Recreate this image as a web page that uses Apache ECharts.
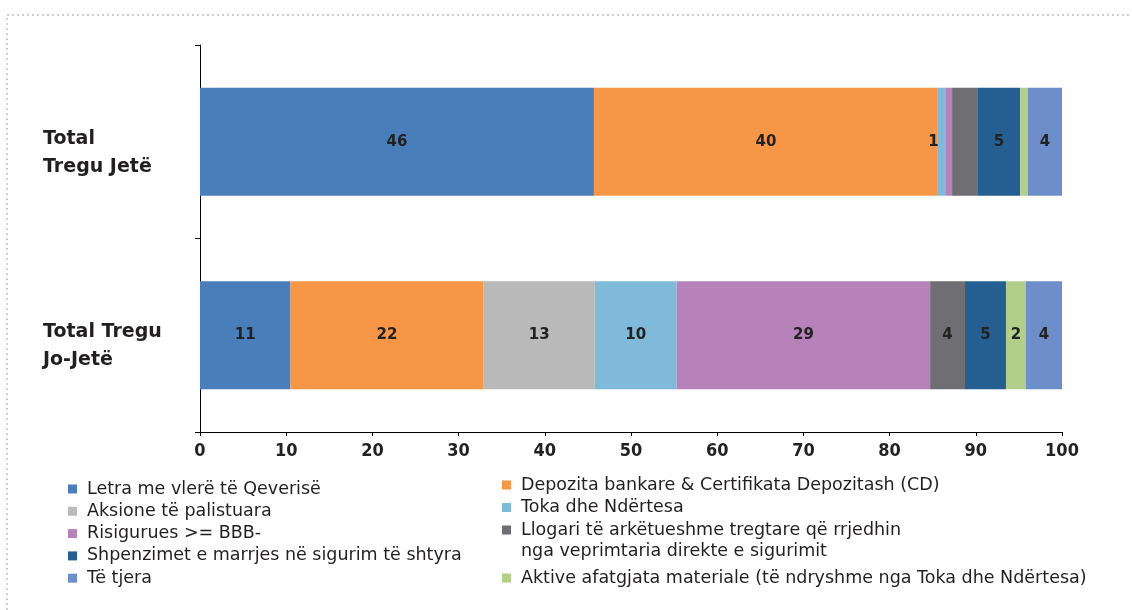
<!DOCTYPE html>
<html>
<head>
<meta charset="utf-8">
<title>Struktura e aktiveve</title>
<script src="https://cdn.jsdelivr.net/npm/echarts@6/dist/echarts.min.js"></script>
<style>
    html, body { margin: 0; padding: 0; background: #fff; }
    #main { width: 1132px; height: 610px; }
</style>
</head>
<body>
<div id="main"></div>
<script>
// kategorite (boshti vertikal)
var categories = ['Total\nTregu Jetë', 'Total Tregu\nJo-Jetë'];

// emrat e serive
var seriesNames = [
    'Letra me vlerë të Qeverisë',
    'Depozita bankare & Certifikata Depozitash (CD)',
    'Aksione të palistuara',
    'Toka dhe Ndërtesa',
    'Risigurues >= BBB-',
    'Llogari të arkëtueshme tregtare që rrjedhin',
    'Shpenzimet e marrjes në sigurim të shtyra',
    'Aktive afatgjata materiale (të ndryshme nga Toka dhe Ndërtesa)',
    'Të tjera'
];

// vlerat (%) per secilen kategori
var jeteValues   = [45.7, 39.9, 0, 0.85, 0.8, 3.0, 4.9, 0.9, 3.95];
var joJeteValues = [10.5, 22.4, 12.9, 9.5, 29.4, 4.05, 4.75, 2.3, 4.2];

// etiketat qe nuk shfaqen ne shtyllen e pare
var jeteNoLabel = [false, false, true, false, true, true, false, true, false];

// boshti horizontal
var xMin = 0;
var xMax = 100;
var xStep = 10;

var colors = ['#4a7ebb', '#f79646', '#b9b9b9', '#80bada', '#b781b9',
              '#6f6f73', '#255e91', '#b3cd8b', '#6d8ec9'];

var myChart = echarts.init(document.getElementById('main'));

var series = [];
for (var i = 0; i < seriesNames.length; i++) {
    var first = { value: jeteValues[i] };
    if (jeteNoLabel[i]) {
        first.label = { show: false };
    } else if (i == 3) {
        first.label = { offset: [-8, 0] };
    }
    series.push({
        name: seriesNames[i],
        type: 'bar',
        stack: 'total',
        barWidth: 108,
        itemStyle: { color: colors[i] },
        label: {
            show: true,
            position: 'inside',
            color: '#222',
            fontFamily: 'DejaVu Sans',
            fontWeight: 'bold',
            fontSize: 15,
            formatter: function (p) { return Math.round(p.value); }
        },
        data: [first, joJeteValues[i]]
    });
}

var legendText = {
    color: '#231f20',
    fontFamily: 'DejaVu Sans',
    fontSize: 17.5,
    lineHeight: 18,
    padding: [0, 0, 0, 5]
};

var option = {
    animation: false,
    color: colors,
    grid: { left: 200, right: 70, top: 45, bottom: 178 },
    xAxis: {
        type: 'value',
        min: xMin,
        max: xMax,
        interval: xStep,
        splitLine: { show: false },
        axisLine: { show: true, lineStyle: { color: '#000', width: 1 } },
        axisTick: { show: true, length: 4, lineStyle: { color: '#000' } },
        axisLabel: {
            margin: 10,
            color: '#222',
            fontFamily: 'DejaVu Sans Condensed, DejaVu Sans',
            fontWeight: 'bold',
            fontSize: 18
        }
    },
    yAxis: {
        type: 'category',
        inverse: true,
        data: categories,
        axisLine: { show: true, lineStyle: { color: '#000', width: 1 } },
        axisTick: { show: true, length: 5, lineStyle: { color: '#000' } },
        axisLabel: {
            align: 'left',
            margin: 157,
            lineHeight: 28,
            formatter: function (v) {
                var l = v.split('\n');
                return '{n|' + l[0] + '}\n{n|' + l[1] + '}';
            },
            rich: {
                // hapesira siper e ul pak secilin rresht
                n: {
                    color: '#231f20',
                    fontFamily: 'DejaVu Sans',
                    fontWeight: 'bold',
                    fontSize: 19,
                    lineHeight: 28,
                    padding: [22, 0, 0, 0]
                }
            }
        }
    },
    legend: [{
        // kolona e majte
        orient: 'vertical',
        left: 68,
        top: 480,
        padding: 0,
        icon: 'rect',
        itemWidth: 9,
        itemHeight: 9,
        itemGap: 4.3,
        textStyle: legendText,
        data: [seriesNames[0], seriesNames[2], seriesNames[4], seriesNames[6], seriesNames[8]]
    }, {
        // kolona e djathte
        orient: 'vertical',
        left: 502,
        top: 476,
        padding: 0,
        icon: 'rect',
        itemWidth: 9,
        itemHeight: 9,
        itemGap: 4.5,
        textStyle: legendText,
        data: [seriesNames[1], seriesNames[3], seriesNames[5]]
    }, {
        orient: 'vertical',
        left: 502,
        top: 569,
        padding: 0,
        icon: 'rect',
        itemWidth: 9,
        itemHeight: 9,
        textStyle: legendText,
        data: [seriesNames[7]]
    }],
    graphic: [{
        type: 'text',
        left: 521,
        top: 542,
        style: {
            text: 'nga veprimtaria direkte e sigurimit',
            fill: '#231f20',
            font: '17.5px "DejaVu Sans"'
        }
    }, {
        type: 'rect',
        shape: { x: 7, y: 15, width: 1140, height: 620 },
        style: { fill: 'none', stroke: '#a0a0a0', lineWidth: 1, lineDash: [2, 3] },
        silent: true
    }],
    series: series
};

myChart.setOption(option);
</script>
</body>
</html>
